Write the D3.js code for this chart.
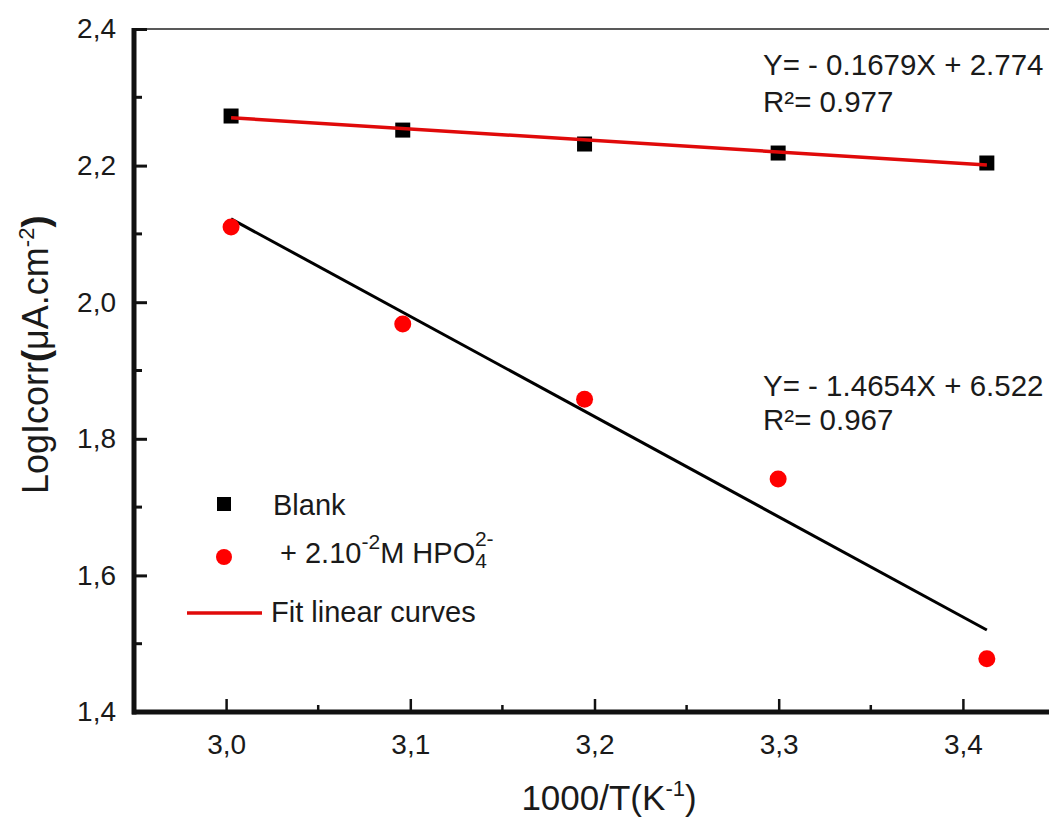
<!DOCTYPE html>
<html lang="en">
<head>
    <meta charset="UTF-8">
    <title></title>
    <style type="text/css">
        html, body { padding:0; margin:0; background:#fff; }
        text { font-family: Arial, "Liberation Sans", sans-serif; fill:#1a1a1a; }
    </style>
</head>
<body>
<script src="https://d3js.org/d3.v7.min.js"></script>
<script>
    // values
    var invT = [3.0027, 3.0959, 3.1946, 3.2997, 3.413];
    var blank = [2.2726, 2.252, 2.2316, 2.2184, 2.2038];
    var phosphate = [2.110, 1.968, 1.858, 1.741, 1.478];
    var fitBlank = [[3.0027, 2.270], [3.413, 2.201]];
    var fitPhosphate = [[3.0027, 2.122], [3.413, 1.520]];
    var xTicks = [3.0, 3.1, 3.2, 3.3, 3.4];
    var xMinor = [3.05, 3.15, 3.25, 3.35];
    var yTicks = [1.4, 1.6, 1.8, 2.0, 2.2, 2.4];
    var yMinor = [1.5, 1.7, 1.9, 2.1, 2.3];

    var width = 1049,
        height = 818;

    var svg = d3.select('body').append('svg')
                .attr('width', width)
                .attr('height', height);

    var x = d3.scaleLinear().domain([2.95, 3.45]).range([134, 1055]),
        y = d3.scaleLinear().domain([1.4, 2.4]).range([712, 29]);

    var comma = function(d) { return d3.format('.1f')(d).replace('.', ','); };

    // top frame (thin)
    svg.append('line')
       .attr('x1', x(2.95)).attr('x2', width)
       .attr('y1', y(2.4)).attr('y2', y(2.4))
       .attr('stroke', '#222').attr('stroke-width', 1.5);

    // bottom axis, ticks inward
    var axisX = d3.axisBottom(x).tickValues(xTicks).tickSize(-13).tickPadding(22).tickFormat(comma);
    var gx = svg.append('g')
       .attr('class', 'xAxis')
       .attr('transform', 'translate(0,' + y(1.4) + ')')
       .call(axisX);
    gx.selectAll('.tick line').attr('stroke', '#111').attr('stroke-width', 2.5);
    gx.selectAll('.tick text').style('font-size', '28px').attr('fill', '#1a1a1a');
    gx.select('.domain').remove();
    gx.selectAll('.minor')
      .data(xMinor).enter().append('line')
      .attr('x1', function(d) { return x(d); }).attr('x2', function(d) { return x(d); })
      .attr('y1', 0).attr('y2', -7)
      .attr('stroke', '#111').attr('stroke-width', 2.5);
    gx.append('line')
      .attr('x1', x(2.95) - 2).attr('x2', width)
      .attr('y1', 0).attr('y2', 0)
      .attr('stroke', '#111').attr('stroke-width', 5);

    // left axis
    var axisY = d3.axisLeft(y).tickValues(yTicks).tickSize(-13).tickPadding(18).tickFormat(comma);
    var gy = svg.append('g')
       .attr('class', 'yAxis')
       .attr('transform', 'translate(' + x(2.95) + ',0)')
       .call(axisY);
    gy.selectAll('.tick line').attr('stroke', '#111').attr('stroke-width', 3);
    gy.selectAll('.tick text').style('font-size', '28px').attr('fill', '#1a1a1a');
    gy.select('.domain').remove();
    gy.selectAll('.minor')
      .data(yMinor).enter().append('line')
      .attr('y1', function(d) { return y(d); }).attr('y2', function(d) { return y(d); })
      .attr('x1', 0).attr('x2', 8)
      .attr('stroke', '#111').attr('stroke-width', 3);
    gy.append('line')
      .attr('x1', 0).attr('x2', 0)
      .attr('y1', y(2.4) - 1).attr('y2', y(1.4) + 2.5)
      .attr('stroke', '#111').attr('stroke-width', 5);

    // fit lines
    var line = d3.line()
                 .x(function(d) { return x(d[0]); })
                 .y(function(d) { return y(d[1]); });

    svg.append('path').datum(fitPhosphate)
       .attr('d', line).attr('fill', 'none')
       .attr('stroke', '#000').attr('stroke-width', 3);

    // blank points
    svg.selectAll('rect.blank')
       .data(invT).enter().append('rect')
       .attr('class', 'blank')
       .attr('x', function(d) { return x(d) - 7.5; })
       .attr('y', function(d, i) { return y(blank[i]) - 7.5; })
       .attr('width', 15).attr('height', 15)
       .attr('fill', '#000');

    svg.append('path').datum(fitBlank)
       .attr('d', line).attr('fill', 'none')
       .attr('stroke', '#e00a0a').attr('stroke-width', 3.5);

    // phosphate points
    svg.selectAll('circle.phos')
       .data(invT).enter().append('circle')
       .attr('class', 'phos')
       .attr('cx', function(d) { return x(d); })
       .attr('cy', function(d, i) { return y(phosphate[i]); })
       .attr('r', 8.5)
       .attr('fill', '#ff0000');

    // equations
    svg.append('text').attr('x', 763).attr('y', 75).style('font-size', '29.5px')
       .text('Y= - 0.1679X + 2.774');
    svg.append('text').attr('x', 763).attr('y', 112).style('font-size', '29.5px')
       .text('R\u00b2= 0.977');
    svg.append('text').attr('x', 763).attr('y', 396).style('font-size', '29.5px')
       .text('Y= - 1.4654X + 6.522');
    svg.append('text').attr('x', 763).attr('y', 430).style('font-size', '29.5px')
       .text('R\u00b2= 0.967');

    // legend
    var lg = svg.append('g').style('font-size', '29px');
    lg.append('rect').attr('x', 217).attr('y', 497).attr('width', 14).attr('height', 14).attr('fill', '#000');
    lg.append('text').attr('x', 273).attr('y', 515).text('Blank');
    lg.append('circle').attr('cx', 224).attr('cy', 557).attr('r', 8).attr('fill', '#ff0000');
    var t2 = lg.append('text').attr('x', 280).attr('y', 563);
    t2.append('tspan').text('+ 2.10');
    t2.append('tspan').attr('dy', -14).style('font-size', '21px').text('-2');
    t2.append('tspan').attr('dy', 14).text('M HPO');
    t2.append('tspan').attr('dy', 5).style('font-size', '21px').text('4');
    t2.append('tspan').attr('dx', -12).attr('dy', -22).style('font-size', '21px').text('2-');
    lg.append('line').attr('x1', 187).attr('x2', 262).attr('y1', 613).attr('y2', 613)
      .attr('stroke', '#e00a0a').attr('stroke-width', 3.5);
    lg.append('text').attr('x', 271).attr('y', 622).text('Fit linear curves');

    // axis titles
    var xt = svg.append('text').attr('x', 609).attr('y', 810)
       .attr('text-anchor', 'middle').style('font-size', '35px');
    xt.append('tspan').text('1000/T(K');
    xt.append('tspan').attr('dy', -14).style('font-size', '22px').text('-1');
    xt.append('tspan').attr('dy', 14).text(')');

    var yt = svg.append('text')
       .attr('transform', 'translate(48,494) rotate(-90)')
       .style('font-size', '36px');
    yt.append('tspan').text('LogIcorr');
    yt.append('tspan').style('font-weight', 'bold').text('(');
    yt.append('tspan').text('\u03bcA.cm');
    yt.append('tspan').attr('dy', -14).style('font-size', '22px').text('-2');
    yt.append('tspan').attr('dy', 14).style('font-weight', 'bold').text(')');
</script>
</body>
</html>
